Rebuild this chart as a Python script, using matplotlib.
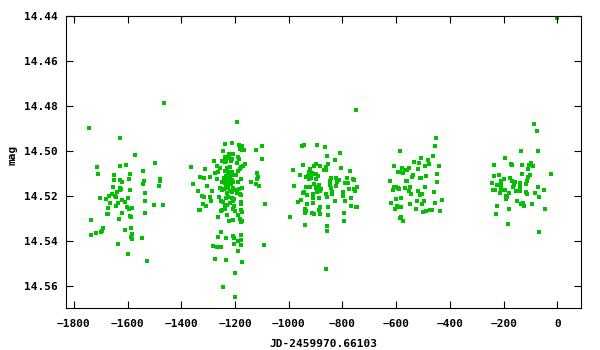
import matplotlib
matplotlib.use("Agg")
import matplotlib.pyplot as plt

# photometry, one list pair per observing season (JD-2459970.66103, mag)
jd_s1 = [-1464.7, -1743.0, -1628.0, -1572.3, -1498.1, -1713.3, -1628.0, -1605.7, -1542.6, -1709.6,
         -1650.2, -1590.9, -1650.2, -1628.0, -1594.6, -1620.5, -1479.5, -1479.5, -1538.9, -1542.6,
         -1483.2, -1654.0, -1628.0, -1624.3, -1628.0, -1590.9, -1639.1, -1535.2, -1657.7, -1668.8,
         -1646.5, -1642.8, -1702.2, -1679.9, -1598.3, -1620.5, -1535.2, -1665.1, -1635.4, -1609.4,
         -1642.8, -1501.8, -1468.4, -1602.0, -1583.4, -1594.6, -1672.5, -1620.5, -1535.2, -1676.2,
         -1672.5, -1590.9, -1587.2, -1631.7, -1735.6, -1609.4, -1587.2, -1691.1, -1694.8, -1698.5,
         -1717.0, -1583.4, -1735.6, -1587.2, -1583.4, -1546.3, -1635.4, -1598.3, -1527.8]
mag_s1 = [14.4787, 14.4898, 14.4943, 14.5018, 14.5054, 14.5072, 14.5067, 14.5063, 14.5090, 14.5103,
          14.5107, 14.5103, 14.5130, 14.5130, 14.5125, 14.5138, 14.5125, 14.5134, 14.5134, 14.5147,
          14.5156, 14.5161, 14.5165, 14.5170, 14.5174, 14.5174, 14.5183, 14.5187, 14.5192, 14.5201,
          14.5201, 14.5205, 14.5210, 14.5214, 14.5210, 14.5219, 14.5223, 14.5232, 14.5232, 14.5228,
          14.5245, 14.5241, 14.5241, 14.5250, 14.5254, 14.5259, 14.5254, 14.5277, 14.5277, 14.5281,
          14.5281, 14.5290, 14.5294, 14.5303, 14.5308, 14.5352, 14.5343, 14.5343, 14.5357, 14.5361,
          14.5366, 14.5370, 14.5375, 14.5383, 14.5392, 14.5388, 14.5415, 14.5459, 14.5490]

jd_s2 = [-1193.8, -1238.3, -1212.3, -1186.4, -1175.2, -1101.0, -1182.7, -1175.2, -1167.8, -1123.3,
         -1245.7, -1223.5, -1208.6, -1238.3, -1230.9, -1223.5, -1212.3, -1190.1, -1186.4, -1101.0,
         -1279.1, -1249.5, -1238.3, -1234.6, -1216.1, -1193.8, -1164.1, -1171.5, -1178.9, -1182.7,
         -1190.1, -1268.0, -1364.5, -1256.9, -1230.9, -1219.8, -1238.3, -1223.5, -1212.3, -1227.2,
         -1219.8, -1234.6, -1204.9, -1312.5, -1275.4, -1264.3, -1119.6, -1197.5, -1331.1, -1316.3,
         -1294.0, -1268.0, -1115.9, -1119.6, -1178.9, -1242.0, -1234.6, -1227.2, -1219.8, -1212.3,
         -1208.6, -1190.1, -1249.5, -1238.3, -1223.5, -1230.9, -1216.1, -1141.8, -1123.3, -1112.2,
         -1357.1, -1305.1, -1256.9, -1249.5, -1242.0, -1234.6, -1227.2, -1208.6, -1197.5, -1186.4,
         -1175.2, -1219.8, -1230.9, -1212.3, -1193.8, -1182.7, -1178.9, -1338.5, -1286.6, -1323.7,
         -1316.3, -1294.0, -1260.6, -1234.6, -1227.2, -1212.3, -1204.9, -1208.6, -1290.3, -1253.2,
         -1245.7, -1178.9, -1178.9, -1219.8, -1230.9, -1238.3, -1320.0, -1308.8, -1089.9, -1204.9,
         -1208.6, -1201.2, -1334.8, -1331.1, -1249.5, -1253.2, -1238.3, -1178.9, -1175.2, -1230.9,
         -1190.1, -1264.3, -1182.7, -1175.2, -1178.9, -1208.6, -1223.5, -1253.2, -1264.3, -1234.6,
         -1208.6, -1204.9, -1178.9, -1190.1, -1178.9, -1204.9, -1178.9, -1282.9, -1268.0, -1253.2,
         -1093.6, -1190.1, -1275.4, -1234.6, -1175.2, -1201.2, -1245.7, -1201.2]
mag_s2 = [14.4871, 14.4969, 14.4965, 14.4974, 14.4978, 14.4978, 14.4991, 14.4996, 14.4996, 14.4996,
          14.5000, 14.5014, 14.5014, 14.5027, 14.5027, 14.5032, 14.5036, 14.5027, 14.5036, 14.5036,
          14.5045, 14.5045, 14.5049, 14.5045, 14.5045, 14.5054, 14.5058, 14.5067, 14.5072, 14.5081,
          14.5090, 14.5067, 14.5072, 14.5076, 14.5076, 14.5072, 14.5090, 14.5094, 14.5094, 14.5107,
          14.5103, 14.5112, 14.5107, 14.5081, 14.5098, 14.5094, 14.5098, 14.5107, 14.5116, 14.5121,
          14.5116, 14.5125, 14.5116, 14.5125, 14.5125, 14.5121, 14.5125, 14.5130, 14.5121, 14.5130,
          14.5138, 14.5138, 14.5138, 14.5143, 14.5138, 14.5147, 14.5147, 14.5138, 14.5147, 14.5156,
          14.5147, 14.5156, 14.5165, 14.5174, 14.5170, 14.5161, 14.5165, 14.5165, 14.5174, 14.5170,
          14.5165, 14.5178, 14.5187, 14.5183, 14.5187, 14.5192, 14.5196, 14.5178, 14.5178, 14.5201,
          14.5205, 14.5205, 14.5205, 14.5210, 14.5205, 14.5210, 14.5214, 14.5223, 14.5223, 14.5223,
          14.5228, 14.5228, 14.5237, 14.5232, 14.5241, 14.5245, 14.5237, 14.5245, 14.5237, 14.5245,
          14.5259, 14.5268, 14.5263, 14.5263, 14.5263, 14.5268, 14.5259, 14.5263, 14.5272, 14.5286,
          14.5286, 14.5294, 14.5303, 14.5312, 14.5317, 14.5308, 14.5312, 14.5361, 14.5383, 14.5388,
          14.5379, 14.5388, 14.5375, 14.5401, 14.5397, 14.5415, 14.5419, 14.5424, 14.5428, 14.5428,
          14.5419, 14.5446, 14.5481, 14.5486, 14.5495, 14.5544, 14.5606, 14.5651]

jd_s3 = [-748.5, -948.9, -941.4, -893.2, -863.5, -807.8, -856.1, -826.4, -945.2, -896.9,
         -904.3, -882.1, -852.4, -859.8, -867.2, -859.8, -804.1, -986.0, -919.2, -922.9,
         -911.8, -904.3, -896.9, -770.7, -956.3, -934.0, -926.6, -919.2, -922.9, -915.5,
         -889.5, -896.9, -841.2, -844.9, -822.7, -811.6, -819.0, -781.9, -759.6, -755.9,
         -789.3, -778.2, -978.6, -934.0, -919.2, -904.3, -885.8, -896.9, -889.5, -878.4,
         -882.1, -893.2, -844.9, -841.2, -822.7, -774.4, -744.7, -755.9, -752.2, -941.4,
         -945.2, -930.3, -908.0, -859.8, -856.1, -837.5, -837.5, -796.7, -796.7, -767.0,
         -908.0, -885.8, -952.6, -963.7, -908.0, -826.4, -789.3, -930.3, -767.0, -748.5,
         -744.7, -882.1, -852.4, -937.7, -934.0, -937.7, -885.8, -911.8, -904.3, -882.1,
         -852.4, -793.0, -997.1, -793.0, -937.7, -856.1, -856.1, -859.8]
mag_s3 = [14.4818, 14.4978, 14.4974, 14.4974, 14.4983, 14.5009, 14.5023, 14.5041, 14.5063, 14.5058,
          14.5067, 14.5067, 14.5058, 14.5072, 14.5085, 14.5085, 14.5076, 14.5085, 14.5081, 14.5094,
          14.5098, 14.5103, 14.5103, 14.5090, 14.5107, 14.5116, 14.5112, 14.5116, 14.5125, 14.5121,
          14.5112, 14.5125, 14.5121, 14.5134, 14.5121, 14.5130, 14.5138, 14.5121, 14.5125, 14.5130,
          14.5143, 14.5143, 14.5156, 14.5161, 14.5161, 14.5147, 14.5152, 14.5165, 14.5161, 14.5170,
          14.5178, 14.5183, 14.5152, 14.5165, 14.5156, 14.5170, 14.5161, 14.5170, 14.5178, 14.5183,
          14.5187, 14.5196, 14.5192, 14.5192, 14.5205, 14.5183, 14.5192, 14.5183, 14.5201, 14.5210,
          14.5210, 14.5210, 14.5219, 14.5228, 14.5232, 14.5223, 14.5223, 14.5237, 14.5245, 14.5250,
          14.5250, 14.5250, 14.5250, 14.5259, 14.5268, 14.5277, 14.5263, 14.5277, 14.5281, 14.5281,
          14.5286, 14.5277, 14.5294, 14.5312, 14.5330, 14.5335, 14.5357, 14.5526]

jd_s4 = [-451.6, -455.3, -585.2, -462.7, -507.3, -481.3, -533.2, -514.7, -477.6, -492.4,
         -440.5, -607.5, -577.8, -551.8, -566.6, -559.2, -518.4, -592.6, -585.2, -574.1,
         -447.9, -536.9, -540.7, -488.7, -511.0, -507.3, -622.3, -562.9, -559.2, -447.9,
         -607.5, -600.0, -592.6, -588.9, -611.2, -566.6, -548.1, -492.4, -551.8, -518.4,
         -459.0, -544.4, -503.5, -511.0, -581.5, -600.0, -522.1, -496.1, -429.3, -618.6,
         -548.1, -503.5, -455.3, -596.3, -588.9, -581.5, -603.7, -525.8, -473.9, -466.4,
         -488.7, -499.8, -436.8, -581.5, -585.2, -574.1]
mag_s4 = [14.4943, 14.4978, 14.5000, 14.5023, 14.5032, 14.5041, 14.5049, 14.5054, 14.5058, 14.5067,
          14.5067, 14.5067, 14.5076, 14.5076, 14.5085, 14.5085, 14.5081, 14.5094, 14.5094, 14.5098,
          14.5103, 14.5107, 14.5116, 14.5112, 14.5121, 14.5121, 14.5134, 14.5134, 14.5134, 14.5138,
          14.5161, 14.5161, 14.5165, 14.5170, 14.5174, 14.5165, 14.5161, 14.5161, 14.5178, 14.5178,
          14.5183, 14.5192, 14.5192, 14.5196, 14.5210, 14.5214, 14.5223, 14.5223, 14.5219, 14.5232,
          14.5237, 14.5237, 14.5232, 14.5245, 14.5250, 14.5250, 14.5259, 14.5259, 14.5263, 14.5263,
          14.5268, 14.5272, 14.5268, 14.5294, 14.5299, 14.5312]

jd_s5 = [-87.9, -76.8, -136.2, -73.1, -195.5, -236.4, -173.3, -169.5, -132.4, -106.5,
         -99.0, -91.6, -110.2, -24.8, -132.4, -102.8, -110.2, -236.4, -217.8, -199.2,
         -177.0, -210.4, -169.5, -158.4, -162.1, -165.8, -113.9, -117.6, -243.8, -225.2,
         -210.4, -139.9, -139.9, -73.1, -210.4, -210.4, -240.1, -232.7, -195.5, -154.7,
         -139.9, -139.9, -50.8, -214.1, -180.7, -117.6, -113.9, -84.2, -191.8, -188.1,
         -191.8, -69.3, -151.0, -136.2, -128.7, -125.0, -95.3, -225.2, -180.7, -47.1,
         -228.9, -184.4, -69.3, 0.0]
mag_s5 = [14.4880, 14.4911, 14.5000, 14.5000, 14.5032, 14.5063, 14.5058, 14.5063, 14.5063, 14.5063,
          14.5054, 14.5067, 14.5081, 14.5103, 14.5103, 14.5107, 14.5116, 14.5112, 14.5107, 14.5125,
          14.5121, 14.5134, 14.5134, 14.5138, 14.5152, 14.5161, 14.5134, 14.5147, 14.5143, 14.5152,
          14.5152, 14.5143, 14.5152, 14.5161, 14.5165, 14.5174, 14.5174, 14.5174, 14.5174, 14.5178,
          14.5165, 14.5178, 14.5174, 14.5187, 14.5187, 14.5183, 14.5192, 14.5187, 14.5201, 14.5205,
          14.5214, 14.5205, 14.5223, 14.5237, 14.5232, 14.5245, 14.5237, 14.5245, 14.5259, 14.5259,
          14.5281, 14.5326, 14.5361, 14.4409]

x_ticks = [-1800, -1600, -1400, -1200, -1000, -800, -600, -400, -200, 0]
y_ticks = [14.44, 14.46, 14.48, 14.50, 14.52, 14.54, 14.56]

plt.rcParams['font.family'] = ['DejaVu Sans Mono']
plt.rcParams['font.weight'] = 'bold'

fig = plt.figure(figsize=(6, 3.5), dpi=100)
ax = fig.add_axes([0.11, 0.12, 0.858, 0.833])

jd = jd_s1 + jd_s2 + jd_s3 + jd_s4 + jd_s5
mag = mag_s1 + mag_s2 + mag_s3 + mag_s4 + mag_s5
ax.scatter(jd, mag, s=5, marker='s', color='#00c000', linewidths=0)

ax.set_xlim(-1829, 87)
ax.set_ylim(14.57, 14.44)
ax.set_xticks(x_ticks)
ax.set_yticks(y_ticks)
ax.set_yticklabels([f"{v:.2f}" for v in y_ticks])
ax.tick_params(direction='in', length=5, width=0.8, top=True, right=True,
               labelsize=8, pad=6)
ax.tick_params(axis='x', pad=8)
for sp in ax.spines.values():
    sp.set_linewidth(0.8)

ax.set_xlabel("JD-2459970.66103", fontsize=8, fontweight='bold', labelpad=7)
ax.set_ylabel("mag", fontsize=8, fontweight='bold')
ax.yaxis.set_label_coords(-0.095, 0.525)

fig.savefig("out.png", dpi=100)
